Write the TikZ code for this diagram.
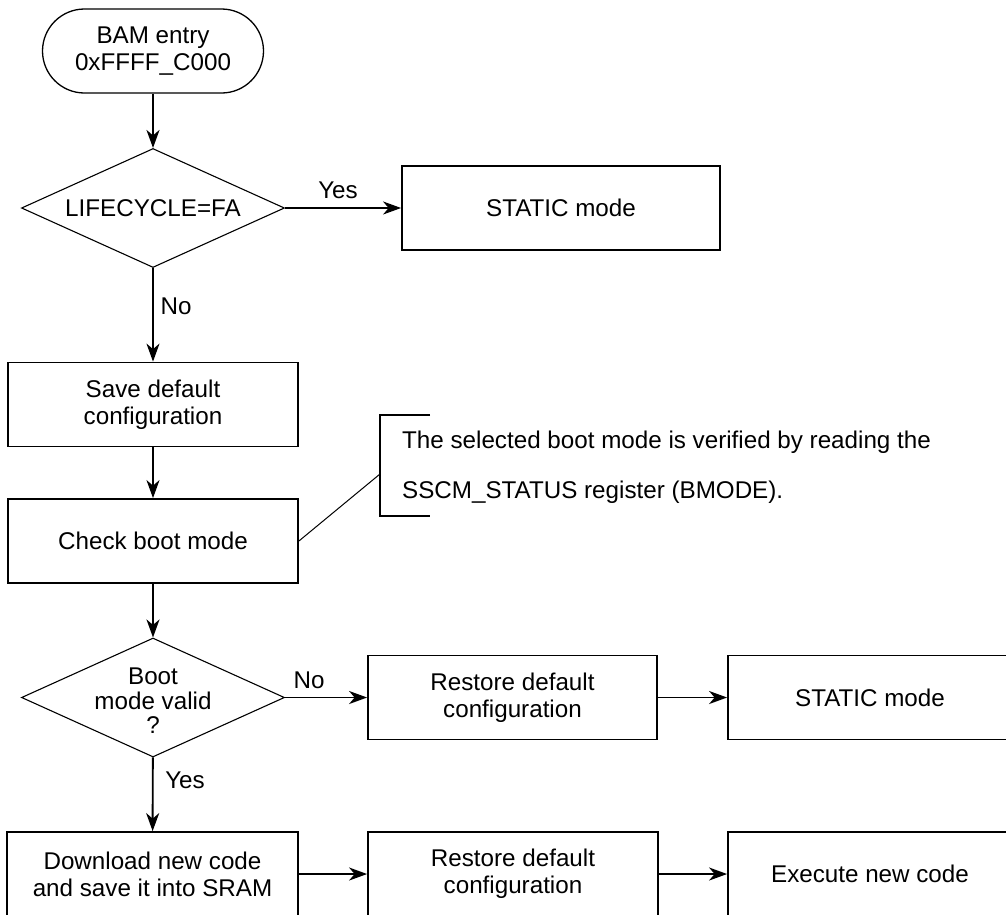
\documentclass[tikz,border=0pt]{standalone}
\usepackage{fontspec}
\setmainfont{Liberation Sans}
\usetikzlibrary{shapes.geometric,arrows.meta}
\begin{document}
\begin{tikzpicture}[x=1pt,y=-1pt,
  every node/.style={font=\fontsize{24.2}{27}\selectfont},
  procbox/.style={draw, line width=1.8pt, minimum height=84pt, inner sep=0pt, align=center},
  decision/.style={draw, diamond, aspect=2.21, line width=1.1pt, minimum width=263pt, minimum height=119pt, inner sep=0pt},
  terminal/.style={draw, rounded corners=42pt, line width=1.3pt, minimum width=221pt, minimum height=84pt, inner sep=0pt, align=center},
  flow/.style={line width=1.9pt, -{Stealth[length=18pt,width=13pt,inset=5.5pt]}},
  lbl/.style={inner sep=0pt}
]
\useasboundingbox (0,0) rectangle (1006,914);
\clip (0,0) rectangle (1006,914);

% main column
\node[terminal] (start) at (153,51) {BAM entry\\0xFFFF\_C000};
\node[decision] (lc) at (153,208) {LIFECYCLE=FA};
\node[procbox, minimum width=318pt] (st1) at (561,208) {STATIC mode};
\node[procbox, minimum width=290pt] (save) at (153,404.5) {Save default\\configuration};
\node[procbox, minimum width=290pt] (check) at (153,541) {Check boot mode};
\node[decision] (bm) at (153,697.5) {};
\node[align=center, inner sep=0pt, font=\fontsize{24.2}{24.5}\selectfont] (bmtext) at (153,701) {Boot\\mode valid\\?};

% failure branch
\node[procbox, minimum width=289pt] (rst1) at (512.5,697.5) {Restore default\\configuration};
\node[procbox, minimum width=284pt] (st2) at (870,697.5) {STATIC mode};

% download branch
\node[procbox, minimum width=291pt] (dl) at (152.5,874) {Download new code\\and save it into SRAM};
\node[procbox, minimum width=290pt] (rst2) at (513,874) {Restore default\\configuration};
\node[procbox, minimum width=284pt] (exe) at (870,874) {Execute new code};

% connectors
\draw[flow] (start) -- (lc);
\draw[flow] (lc) -- (st1);
\draw[flow] (lc) -- (save);
\draw[flow] (save) -- (check);
\draw[flow] (check) -- (bm);
\draw[flow] (bm) -- (rst1);
\draw[flow] (rst1) -- (st2);
\draw[flow] (bm) -- (dl);
\draw[flow] (dl) -- (rst2);
\draw[flow] (rst2) -- (exe);

% branch labels
\node[lbl] (yes1) at (338,190) {Yes};
\node[lbl] (no1) at (176,306) {No};
\node[lbl] (no2) at (309,680) {No};
\node[lbl] (yes2) at (185,780) {Yes};

% annotation with bracket
\coordinate (brtl) at (430,415);
\coordinate (brt) at (380,415);
\coordinate (brb) at (380,516);
\coordinate (brbl) at (430,516);
\coordinate (lead) at (380,474);
\draw[line width=1.8pt] (brtl) -- (brt) -- (brb) -- (brbl);
\draw[line width=1pt] (check.east) -- (lead);
\node[anchor=north west, align=left, inner sep=0pt, font=\fontsize{24.2}{50}\selectfont] (note) at (402,430.5)
  {The selected boot mode is verified by reading the\\SSCM\_STATUS register (BMODE).};
\end{tikzpicture}
\end{document}
